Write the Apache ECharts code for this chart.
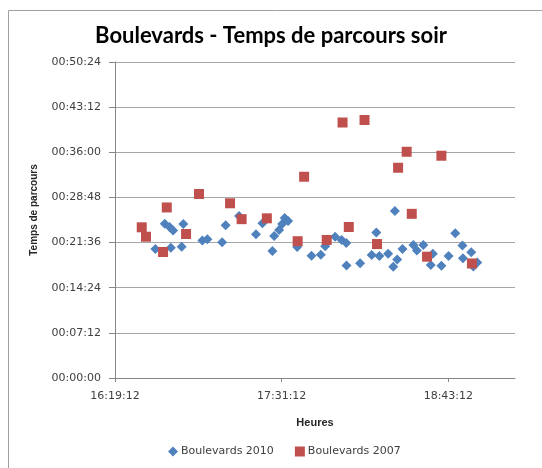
<!DOCTYPE html>
<html>
<head>
<meta charset="utf-8">
<title>Boulevards - Temps de parcours soir</title>
<script src="https://cdn.jsdelivr.net/npm/echarts@6/dist/echarts.min.js"></script>
<style>
  html, body { margin: 0; padding: 0; background: #fff; }
  #chart { width: 542px; height: 468px; }
</style>
</head>
<body>
<div id="chart"></div>
<script>
// heures de passage (x) et temps de parcours (y)
const heures2010 = [
  '16:36:38', '16:40:42', '16:42:46', '16:44:18', '16:43:18', '16:48:42', '16:48:00',
  '16:56:57', '16:59:06', '17:05:28', '17:07:00', '17:12:48', '17:20:06', '17:22:54',
  '17:27:12', '17:27:58', '17:30:06', '17:31:24', '17:32:30', '17:34:00', '17:37:54',
  '17:44:06', '17:48:06', '17:50:00', '17:54:18', '17:57:06', '17:59:06', '17:59:12',
  '18:05:06', '18:10:06', '18:12:06', '18:13:24', '18:17:12', '18:19:24', '18:21:06',
  '18:20:06', '18:23:24', '18:28:06', '18:29:36', '18:32:24', '18:36:30', '18:35:36',
  '18:40:12', '18:43:18', '18:46:12', '18:49:18', '18:49:30', '18:53:06', '18:54:00',
  '18:55:42'
]
const parcours2010 = [
  '00:20:34', '00:24:37', '00:24:05', '00:23:32', '00:20:46', '00:24:34', '00:20:56',
  '00:21:55', '00:22:07', '00:21:39', '00:24:21', '00:25:50', '00:22:56', '00:24:41',
  '00:20:15', '00:22:39', '00:23:36', '00:24:34', '00:25:31', '00:25:02', '00:20:54',
  '00:19:29', '00:19:39', '00:21:01', '00:22:31', '00:22:01', '00:21:32', '00:17:57',
  '00:18:18', '00:19:37', '00:23:12', '00:19:27', '00:19:50', '00:17:45', '00:18:54',
  '00:26:38', '00:20:34', '00:21:13', '00:20:20', '00:21:13', '00:19:49', '00:18:01',
  '00:17:55', '00:19:27', '00:23:05', '00:21:08', '00:19:05', '00:20:03', '00:17:47',
  '00:18:25'
]
const heures2007 = [
  '16:30:45', '16:32:36', '16:41:34', '16:39:58', '16:49:54', '16:55:30', '17:08:54',
  '17:13:54', '17:24:48', '17:38:06', '17:40:54', '17:50:40', '17:57:30', '18:00:12',
  '18:07:00', '18:12:24', '18:21:30', '18:25:12', '18:27:24', '18:34:00', '18:40:12',
  '18:53:24'
]
const parcours2007 = [
  '00:24:02', '00:22:32', '00:27:12', '00:20:06', '00:22:58', '00:29:21', '00:27:52',
  '00:25:20', '00:25:28', '00:21:49', '00:32:06', '00:22:01', '00:40:45', '00:24:05',
  '00:41:09', '00:21:22', '00:33:32', '00:36:05', '00:26:11', '00:19:21', '00:35:27',
  '00:18:16'
]
const heuresTicks = ['16:19:12', '17:31:12', '18:43:12']
const heureMax = '19:12:00'
const parcoursMax = '00:50:24'
const parcoursPas = '00:07:12'

// 'hh:mm:ss' -> secondes
const toSec = (s) => {
  const p = s.split(':').map(Number)
  return p[0] * 3600 + p[1] * 60 + p[2]
}
const pad = (n) => String(n).padStart(2, '0')
const toHms = (v) => {
  const s = Math.round(v)
  return pad(Math.floor(s / 3600)) + ':' + pad(Math.floor(s / 60) % 60) + ':' + pad(s % 60)
}

const data2010 = heures2010.map((h, i) => [toSec(h), toSec(parcours2010[i])])
const data2007 = heures2007.map((h, i) => [toSec(h), toSec(parcours2007[i])])
const xTicks = heuresTicks.map(toSec)

const chart = echarts.init(document.getElementById('chart'))

const option = {
  animation: false,
  title: {
    text: 'Boulevards - Temps de parcours soir',
    left: 'center',
    top: 20,
    textStyle: {
      fontFamily: 'Lato',
      fontWeight: 'bold',
      fontSize: 22,
      color: '#000'
    }
  },
  grid: {
    left: 115,
    right: 27,
    top: 62,
    bottom: 90
  },
  legend: {
    left: 163,
    top: 441,
    itemWidth: 10,
    itemHeight: 10,
    itemGap: 21,
    textStyle: {
      fontFamily: 'DejaVu Sans',
      fontSize: 11,
      color: '#404040',
      padding: [0, 0, 0, -2]
    },
    data: [
      { name: 'Boulevards 2010', icon: 'diamond' },
      { name: 'Boulevards 2007', icon: 'rect' }
    ]
  },
  xAxis: {
    type: 'value',
    min: xTicks[0],
    max: toSec(heureMax),
    name: 'Heures',
    nameLocation: 'middle',
    nameGap: 39,
    nameTextStyle: {
      fontFamily: 'Liberation Sans',
      fontWeight: 'bold',
      fontSize: 11,
      color: '#262626'
    },
    axisLine: { lineStyle: { color: '#868686' } },
    axisTick: {
      customValues: xTicks,
      length: 4,
      lineStyle: { color: '#868686' }
    },
    axisLabel: {
      customValues: xTicks,
      formatter: (v) => toHms(v),
      margin: 13,
      fontFamily: 'DejaVu Sans',
      fontSize: 11,
      color: '#404040'
    },
    splitLine: { show: false }
  },
  yAxis: {
    type: 'value',
    min: 0,
    max: toSec(parcoursMax),
    interval: toSec(parcoursPas),
    name: 'Temps de parcours',
    nameLocation: 'middle',
    nameGap: 76,
    nameTextStyle: {
      fontFamily: 'Liberation Sans',
      fontWeight: 'bold',
      fontSize: 10,
      color: '#262626',
      padding: [0, 0, 0, 20]
    },
    axisLine: { show: true, lineStyle: { color: '#868686' } },
    axisTick: { show: true, length: 6, lineStyle: { color: '#868686' } },
    axisLabel: {
      formatter: (v) => toHms(v),
      margin: 14,
      fontFamily: 'DejaVu Sans',
      fontSize: 11,
      color: '#404040'
    },
    splitLine: { lineStyle: { color: '#a6a6a6' } }
  },
  series: [
    {
      name: 'Boulevards 2010',
      type: 'scatter',
      symbol: 'diamond',
      symbolSize: 10,
      itemStyle: { color: '#4f81bd', opacity: 1 },
      data: data2010
    },
    {
      name: 'Boulevards 2007',
      type: 'scatter',
      symbol: 'rect',
      symbolSize: 10,
      itemStyle: { color: '#c0504d', opacity: 1 },
      data: data2007
    }
  ],
  graphic: [
    {
      type: 'polyline',
      silent: true,
      shape: { points: [[8.5, 468], [8.5, 10.5], [542, 10.5]] },
      style: { stroke: '#a0a0a0', lineWidth: 1, fill: null }
    }
  ]
}

chart.setOption(option)
</script>
</body>
</html>
